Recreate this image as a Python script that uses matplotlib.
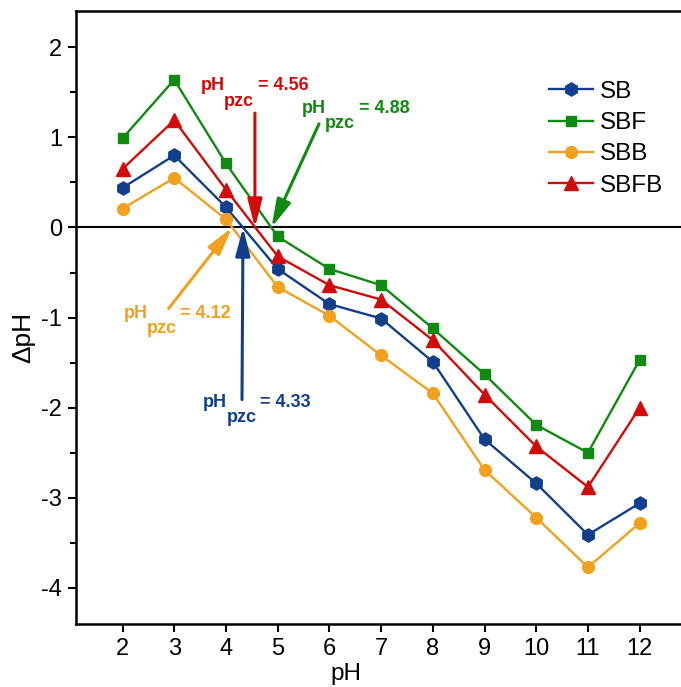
import matplotlib
matplotlib.use("Agg")
import matplotlib.pyplot as plt
from matplotlib.ticker import MultipleLocator

plt.rcParams['font.family'] = ['Liberation Sans', 'DejaVu Sans']
plt.rcParams['axes.unicode_minus'] = False

ph = [2, 3, 4, 5, 6, 7, 8, 9, 10, 11, 12]
sb = [0.44, 0.80, 0.225, -0.46, -0.85, -1.01, -1.49, -2.35, -2.84, -3.41, -3.06]
sbf = [0.99, 1.64, 0.71, -0.10, -0.46, -0.64, -1.12, -1.63, -2.19, -2.50, -1.47]
sbb = [0.21, 0.55, 0.09, -0.66, -0.98, -1.42, -1.84, -2.69, -3.22, -3.77, -3.28]
sbfb = [0.65, 1.19, 0.42, -0.32, -0.64, -0.80, -1.25, -1.855, -2.43, -2.88, -2.00]

pzc_labels = ["4.56", "4.88", "4.12", "4.33"]
pzc_values = [4.56, 4.88, 4.12, 4.33]

c_blue = "#123f8c"
c_green = "#118a11"
c_orange = "#f2a11e"
c_red = "#d20a0a"

fig = plt.figure(figsize=(6.81, 6.87), dpi=100)
ax = fig.add_axes([0.1116, 0.0917, 0.896, 0.892])

ax.plot(ph, sb, color=c_blue, lw=1.7, marker='h', ms=9.5, label='SB')
ax.plot(ph, sbf, color=c_green, lw=1.7, marker='s', ms=7.5, label='SBF')
ax.plot(ph, sbb, color=c_orange, lw=1.7, marker='o', ms=8.5, label='SBB')
ax.plot(ph, sbfb, color=c_red, lw=1.7, marker='^', ms=9.5, label='SBFB')

ax.axhline(0, color='black', lw=1.5, zorder=1)

ax.set_xlim(1.1, 12.9)
ax.set_ylim(-4.4, 2.4)
ax.set_xticks(ph)
ax.yaxis.set_major_locator(MultipleLocator(1))
ax.yaxis.set_minor_locator(MultipleLocator(0.5))
ax.tick_params(axis='both', which='major', direction='out', length=6, width=1.5, labelsize=17, pad=4)
ax.tick_params(axis='y', which='minor', direction='out', length=4, width=1.5)
ax.spines['right'].set_visible(False)
for s in ['left', 'bottom', 'top']:
    ax.spines[s].set_linewidth(1.8)

ax.set_xlabel('pH', fontsize=17.5)
ax.set_ylabel('ΔpH', fontsize=19)
ax.xaxis.set_label_coords(0.442, -0.064)
ax.yaxis.set_label_coords(-0.066, 0.468)

leg = ax.legend(loc='upper left', bbox_to_anchor=(0.759, 0.902), frameon=False,
                fontsize=17.5, handlelength=1.8, handletextpad=0.3, labelspacing=0.38,
                borderaxespad=0)

arrow_kw = dict(arrowstyle="-|>,head_length=0.85,head_width=0.22", lw=2.2,
                mutation_scale=20, shrinkA=0, shrinkB=0)

# (value, tail, label anchors, colour)
specs = [
    (pzc_values[0], (4.56, 1.27), (3.51, 1.57), c_red),
    (pzc_values[1], (5.80, 1.15), (5.47, 1.32), c_green),
    (pzc_values[2], (2.89, -0.90), (2.02, -0.95), c_orange),
    (pzc_values[3], (4.31, -1.91), (3.56, -1.94), c_blue),
]
for (val, tail, lab, col), txt in zip(specs, pzc_labels):
    ax.annotate('', xy=(val, 0), xytext=tail,
                arrowprops=dict(color=col, **arrow_kw))
    ax.text(lab[0], lab[1], 'pH', color=col, fontsize=13, fontweight='bold',
            ha='left', va='center')
    ax.text(lab[0] + 0.45, lab[1] - 0.17, 'pzc', color=col, fontsize=13,
            fontweight='bold', ha='left', va='center')
    ax.text(lab[0] + 1.1, lab[1], '= ' + txt, color=col, fontsize=13,
            fontweight='bold', ha='left', va='center')

fig.savefig('out.png', dpi=100)
